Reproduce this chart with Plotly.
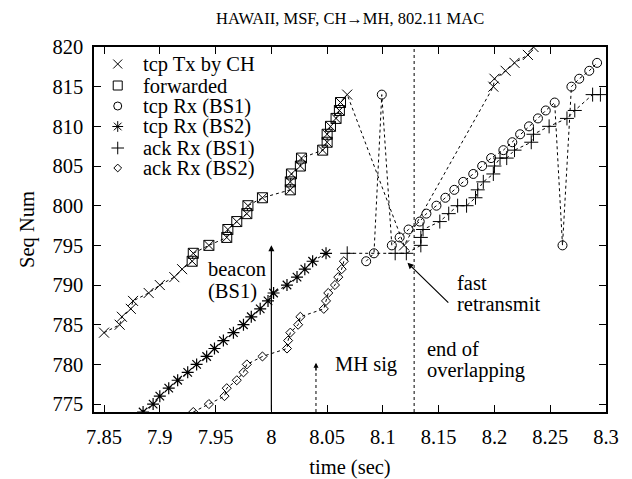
import plotly.graph_objects as go

# ---- data ----
tx_t = [7.850, 7.864, 7.866, 7.874, 7.876, 7.890, 7.900, 7.913, 7.920,
        7.929, 7.930, 7.944, 7.960, 7.961, 7.969, 7.978, 7.979, 7.992,
        8.017, 8.017, 8.018, 8.026, 8.027, 8.046, 8.050, 8.050, 8.053,
        8.058, 8.061, 8.062, 8.068, 8.119, 8.199, 8.200, 8.210, 8.218,
        8.230, 8.235]
tx_s = [784, 785, 786, 787, 788, 789, 790, 791, 792,
        793, 794, 795, 796, 797, 798, 799, 800, 801,
        802, 803, 804, 805, 806, 807, 808, 809, 810,
        811, 812, 813, 814, 795, 815, 816, 817, 818,
        819, 820]

fwd_t = [7.929, 7.930, 7.944, 7.960, 7.961, 7.969, 7.978, 7.979, 7.992,
         8.017, 8.017, 8.018, 8.026, 8.027, 8.046, 8.050, 8.050, 8.053,
         8.058, 8.061, 8.062]
fwd_s = [793, 794, 795, 796, 797, 798, 799, 800, 801,
         802, 803, 804, 805, 806, 807, 808, 809, 810,
         811, 812, 813]

rx1_t = [8.085, 8.092, 8.099, 8.108, 8.115, 8.123, 8.133, 8.139, 8.148,
         8.156, 8.164, 8.172, 8.181, 8.189, 8.197, 8.208, 8.216, 8.223,
         8.231, 8.239, 8.246, 8.254, 8.261, 8.269, 8.276, 8.285, 8.292]
rx1_s = [793, 794, 814, 795, 796, 797, 798, 799, 800,
         801, 802, 803, 804, 805, 806, 807, 808, 809,
         810, 811, 812, 813, 795, 815, 816, 817, 818]

rx2_t = [7.885, 7.894, 7.900, 7.908, 7.916, 7.925, 7.933, 7.942, 7.949,
         7.957, 7.966, 7.975, 7.982, 7.990, 7.997, 8.002, 8.014, 8.023,
         8.030, 8.037, 8.049]
rx2_s = [774, 775, 776, 777, 778, 779, 780, 781, 782,
         783, 784, 785, 786, 787, 788, 789, 790, 791,
         792, 793, 794]

ack1_t = [8.068, 8.111, 8.121, 8.134, 8.134, 8.136, 8.151, 8.159, 8.167,
          8.175, 8.183, 8.185, 8.190, 8.199, 8.200, 8.205, 8.211, 8.218,
          8.233, 8.235, 8.249, 8.265, 8.272, 8.288, 8.295]
ack1_s = [794, 794, 794, 795, 796, 797, 798, 799, 800,
          800, 801, 802, 803, 804, 805, 806, 806, 807,
          808, 809, 810, 811, 812, 814, 814]

ack2_t = [7.930, 7.944, 7.958, 7.960, 7.969, 7.975, 7.978, 7.992, 8.014,
          8.015, 8.017, 8.024, 8.026, 8.047, 8.049, 8.051, 8.057, 8.060,
          8.063, 8.065]
ack2_s = [774, 775, 776, 777, 778, 779, 780, 781, 782,
          783, 784, 785, 786, 787, 788, 789, 790, 791,
          792, 793]

x_ticks = [7.85, 7.9, 7.95, 8.0, 8.05, 8.1, 8.15, 8.2, 8.25, 8.3]
x_labels = ["7.85", "7.9", "7.95", "8", "8.05", "8.1", "8.15", "8.2", "8.25", "8.3"]
y_ticks = [775, 780, 785, 790, 795, 800, 805, 810, 815, 820]

names = ["tcp Tx by CH", "forwarded", "tcp Rx (BS1)", "tcp Rx (BS2)",
         "ack Rx (BS1)", "ack Rx (BS2)"]

FONT = "Liberation Serif"
FS = 20.5

series = [
    (tx_t, tx_s, "x-thin-open", 10, True),
    (fwd_t, fwd_s, "square-open", 10, False),
    (rx1_t, rx1_s, "circle-open", 9, True),
    (rx2_t, rx2_s, "asterisk-open", 10, True),
    (ack1_t, ack1_s, "cross-thin-open", 10, True),
    (ack2_t, ack2_s, "diamond-open", 7, True),
]

fig = go.Figure()
for (t, s, sym, sz, withline), nm in zip(series, names):
    fig.add_trace(go.Scatter(
        x=t, y=s, mode="lines+markers" if withline else "markers",
        line=dict(color="black", width=1, dash="dot"),
        marker=dict(symbol=sym, size=sz, color="black",
                    line=dict(color="black", width=1.2 if "asterisk" in sym else 1)),
        showlegend=False, name=nm))

# ---- hand-built key (markers on an overlay axis in 0..1 units) ----
PLOT_L, PLOT_R, PLOT_T, PLOT_B = 94.3, 605.7, 47.0, 412.0
key_y_px = [64, 85.5, 106, 126.5, 148, 168]
key_y = [(PLOT_B - p) / (PLOT_B - PLOT_T) for p in key_y_px]
key_mx = (118 - PLOT_L) / (PLOT_R - PLOT_L)
key_tx = (141 - PLOT_L) / (PLOT_R - PLOT_L)
for (t, s, sym, sz, withline), nm, ky in zip(series, names, key_y):
    fig.add_trace(go.Scatter(
        x=[key_mx], y=[ky], xaxis="x2", yaxis="y2", mode="markers",
        marker=dict(symbol=sym, size=sz - 1, color="black",
                    line=dict(color="black", width=1)),
        showlegend=False, hoverinfo="skip"))

# vertical dotted line (end of overlapping)
fig.add_shape(type="line", xref="x", yref="paper", x0=8.128, x1=8.128, y0=0, y1=1,
              line=dict(color="black", width=1, dash="dot"))
# MH sig dotted arrow shaft
fig.add_shape(type="line", xref="x", yref="y", x0=8.04, x1=8.04, y0=774, y1=779.6,
              line=dict(color="black", width=1, dash="dot"))

ann = []
ann.append(dict(x=8.0, y=795, ax=8.0, ay=774, xref="x", yref="y", axref="x", ayref="y",
                showarrow=True, arrowhead=2, arrowsize=1, arrowwidth=1.2,
                arrowcolor="black", text=""))
ann.append(dict(x=8.04, y=780.2, ax=8.04, ay=779.0, xref="x", yref="y", axref="x", ayref="y",
                showarrow=True, arrowhead=2, arrowsize=1, arrowwidth=1,
                arrowcolor="black", text=""))
ann.append(dict(x=8.122, y=792.8, ax=8.160, ay=787.6, xref="x", yref="y", axref="x", ayref="y",
                showarrow=True, arrowhead=2, arrowsize=1, arrowwidth=1.2,
                arrowcolor="black", text=""))

def label(txt, x, y):
    ann.append(dict(text=txt, x=x, y=y, xref="x", yref="y", showarrow=False,
                    xanchor="left", yanchor="middle", align="left",
                    font=dict(family=FONT, size=FS, color="black")))

label("beacon", 7.9415, 792.0)
label("(BS1)", 7.9415, 789.2)
label("MH sig", 8.0555, 780.0)
label("fast", 8.1645, 790.3)
label("retransmit", 8.1645, 787.6)
label("end of", 8.1375, 782.0)
label("overlapping", 8.1375, 779.2)

for nm, ky in zip(names, key_y):
    ann.append(dict(text=nm, x=key_tx, y=ky, xref="x2", yref="y2", showarrow=False,
                    xanchor="left", yanchor="middle",
                    font=dict(family=FONT, size=FS, color="black")))

fig.update_layout(
    width=632, height=479,
    margin=dict(l=94, r=26, t=47, b=67, autoexpand=False),
    paper_bgcolor="white", plot_bgcolor="white",
    font=dict(family=FONT, size=FS, color="black"),
    title=dict(text="HAWAII, MSF, CH\u2192MH, 802.11 MAC", x=0.554, xanchor="center",
               y=0.962, yanchor="middle", font=dict(family=FONT, size=16.5, color="black")),
    annotations=ann,
    showlegend=False,
    xaxis2=dict(overlaying="x", range=[0, 1], visible=False, fixedrange=True),
    yaxis2=dict(overlaying="y", range=[0, 1], visible=False, fixedrange=True),
    xaxis=dict(range=[7.841, 8.3], tickvals=x_ticks, ticktext=x_labels, automargin=False,
               ticks="inside", ticklen=7, tickcolor="black", mirror="ticks",
               showline=True, linecolor="black", linewidth=1.5, showgrid=False,
               zeroline=False, ticklabelstandoff=6,
               tickfont=dict(family=FONT, size=FS),
               title=dict(text="time (sec)", standoff=12,
                          font=dict(family=FONT, size=FS))),
    yaxis=dict(range=[774, 820], tickvals=y_ticks, automargin=False,
               ticks="inside", ticklen=7, tickcolor="black", mirror="ticks",
               showline=True, linecolor="black", linewidth=1.5, showgrid=False,
               zeroline=False, ticklabelstandoff=5,
               tickfont=dict(family=FONT, size=FS),
               title=dict(text="Seq Num", standoff=12,
                          font=dict(family=FONT, size=FS))),
)

fig.write_html("out.html")
